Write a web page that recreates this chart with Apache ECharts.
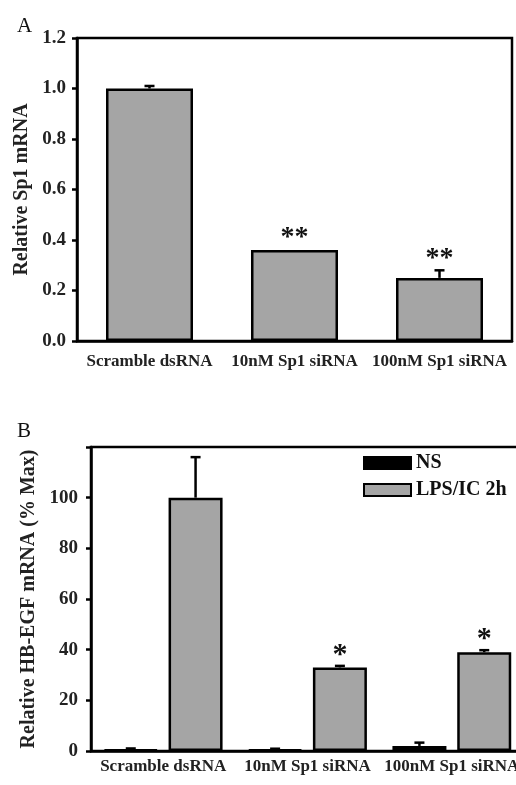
<!DOCTYPE html>
<html>
<head>
<meta charset="utf-8">
<script src="https://cdn.jsdelivr.net/npm/echarts@6/dist/echarts.min.js"></script>
<style>html,body{margin:0;padding:0;background:#fff;overflow:hidden;width:516px;height:785px;}#c{width:530px;height:785px;}</style>
</head>
<body>
<div id="c"></div>
<script>
// Panel A data
var categories = ['Scramble dsRNA', '10nM Sp1 siRNA', '100nM Sp1 siRNA'];
var sp1Values = [1.0, 0.36, 0.25];
var sp1Errors = [0.01, 0, 0.03];
var sp1Stars = ['', '**', '**'];
var yTicksA = [0, 0.2, 0.4, 0.6, 0.8, 1.0, 1.2];

// Panel B data
var nsValues = [0.5, 0.5, 2.0];
var nsErrors = [0.5, 0.4, 1.3];
var nsStars = ['', '', ''];
var lpsValues = [100, 33, 39];
var lpsErrors = [16, 0.6, 0.8];
var lpsStars = ['', '*', '*'];
var yTicksB = [0, 20, 40, 60, 80, 100];

var FONT = 'Liberation Serif';
var GRAY = '#a5a5a5';

function errItem(offset, stars, starSize, starGap) {
  return function (params, api) {
    var idx = api.value(0), v = api.value(1), e = api.value(2);
    var p0 = api.coord([idx, v]);
    var p1 = api.coord([idx, v + e]);
    var x = p0[0] + offset;
    var children = [];
    if (e > 0) {
      children.push({ type: 'line', shape: { x1: x, y1: p0[1], x2: x, y2: p1[1] }, style: { stroke: '#000', lineWidth: 2.5 } });
      children.push({ type: 'line', shape: { x1: x - 5, y1: p1[1], x2: x + 5, y2: p1[1] }, style: { stroke: '#000', lineWidth: 2.5 } });
    }
    var s = stars[params.dataIndex];
    if (s) {
      children.push({ type: 'text', x: x, y: p1[1] - starGap, style: { text: s, fill: '#111', font: 'bold ' + starSize + 'px "' + FONT + '"', align: 'center', verticalAlign: 'middle' } });
    }
    return { type: 'group', children: children };
  };
}

var chart = echarts.init(document.getElementById('c'), null, { renderer: 'canvas' });
var axisLabelStyle = { fontFamily: FONT, fontWeight: 'bold', fontSize: 17, color: '#222' };
var option = {
  animation: false,
  backgroundColor: '#fff',
  title: [
    { text: 'A', left: 12, top: 11, textStyle: { fontFamily: FONT, fontWeight: 'normal', fontSize: 21, color: '#111' } },
    { text: 'B', left: 12, top: 416, textStyle: { fontFamily: FONT, fontWeight: 'normal', fontSize: 21, color: '#111' } }
  ],
  legend: {
    orient: 'vertical', left: 358, top: 448, itemWidth: 47, itemHeight: 12, itemGap: 7, icon: 'rect',
    data: ['NS', 'LPS/IC 2h'],
    textStyle: { fontFamily: FONT, fontWeight: 'bold', fontSize: 20, color: '#111' }
  },
  grid: [
    { left: 77, top: 38, right: 18, bottom: 444, show: true, borderColor: '#000', borderWidth: 2.5 },
    { left: 91, top: 447, right: 6, bottom: 34, show: true, borderColor: '#000', borderWidth: 2.5 }
  ],
  xAxis: [
    { type: 'category', gridIndex: 0, data: categories,
      axisLine: { lineStyle: { color: '#000', width: 2.5 } },
      axisTick: { alignWithLabel: true, length: 5, lineStyle: { color: '#000', width: 2.5 } },
      axisLabel: Object.assign({ margin: 12, interval: 0, hideOverlap: false }, axisLabelStyle) },
    { type: 'category', gridIndex: 1, data: categories,
      axisLine: { lineStyle: { color: '#000', width: 2.5 } },
      axisTick: { alignWithLabel: true, length: 5, lineStyle: { color: '#000', width: 2.5 } },
      axisLabel: Object.assign({ margin: 7, interval: 0, hideOverlap: false }, axisLabelStyle) }
  ],
  yAxis: [
    { type: 'value', gridIndex: 0, min: yTicksA[0], max: yTicksA[yTicksA.length - 1], interval: 0.2,
      name: 'Relative Sp1 mRNA', nameLocation: 'middle', nameGap: 41,
      nameTextStyle: { fontFamily: FONT, fontWeight: 'bold', fontSize: 20, color: '#222' },
      splitLine: { show: false },
      axisLine: { show: true, lineStyle: { color: '#000', width: 2.5 } },
      axisTick: { show: true, length: 5, lineStyle: { color: '#000', width: 2.5 } },
      axisLabel: Object.assign({ margin: 11, formatter: function (v) { return v.toFixed(1); } }, axisLabelStyle, { fontSize: 19 }) },
    { type: 'value', gridIndex: 1, min: 0, max: 120, interval: 20,
      name: 'Relative HB-EGF mRNA (% Max)', nameLocation: 'middle', nameGap: 51,
      nameTextStyle: { fontFamily: FONT, fontWeight: 'bold', fontSize: 20, color: '#222' },
      splitLine: { show: false },
      axisLine: { show: true, lineStyle: { color: '#000', width: 2.5 } },
      axisTick: { show: true, length: 5, lineStyle: { color: '#000', width: 2.5 } },
      axisLabel: Object.assign({ margin: 13,
        formatter: function (v) { return yTicksB.indexOf(v) >= 0 ? String(v) : ''; } }, axisLabelStyle, { fontSize: 19 }) }
  ],
  series: [
    { type: 'bar', xAxisIndex: 0, yAxisIndex: 0, data: sp1Values, barWidth: '60%',
      itemStyle: { color: GRAY, borderColor: '#000', borderWidth: 2.5 }, z: 3 },
    { type: 'custom', xAxisIndex: 0, yAxisIndex: 0, renderItem: errItem(0, sp1Stars, 28, 12), z: 4,
      data: sp1Values.map(function (v, i) { return [i, v, sp1Errors[i]]; }) },
    { name: 'NS', type: 'bar', xAxisIndex: 1, yAxisIndex: 1, data: nsValues, barWidth: 54, barGap: '20%',
      itemStyle: { color: '#000', borderColor: '#000', borderWidth: 2.5 }, z: 3 },
    { name: 'LPS/IC 2h', type: 'bar', xAxisIndex: 1, yAxisIndex: 1, data: lpsValues, barWidth: 54, barGap: '20%',
      itemStyle: { color: GRAY, borderColor: '#000', borderWidth: 2.5 }, z: 3 },
    { type: 'custom', xAxisIndex: 1, yAxisIndex: 1, renderItem: errItem(-32.4, nsStars, 30, 11), z: 4,
      data: nsValues.map(function (v, i) { return [i, v, nsErrors[i]]; }) },
    { type: 'custom', xAxisIndex: 1, yAxisIndex: 1, renderItem: errItem(32.4, lpsStars, 30, 11), z: 4,
      data: lpsValues.map(function (v, i) { return [i, v, lpsErrors[i]]; }) }
  ]
};
chart.setOption(option);
</script>
</body>
</html>
